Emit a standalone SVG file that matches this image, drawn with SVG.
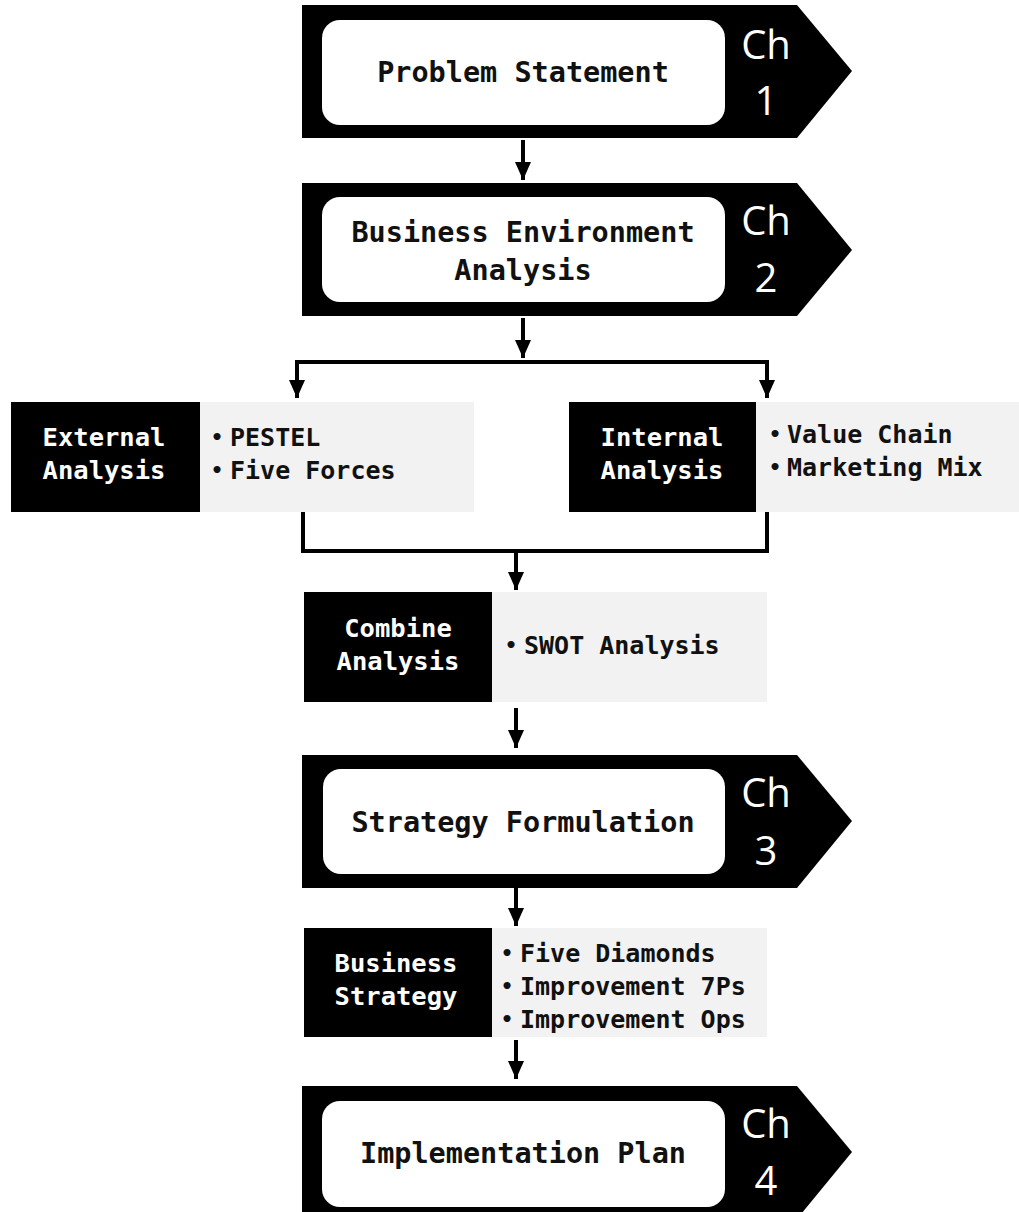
<svg xmlns="http://www.w3.org/2000/svg" width="1019" height="1212" viewBox="0 0 1019 1212">
  <defs>
    <!-- arrowhead drawn along +x so orient="auto" points it along the line -->
    <marker id="arrow" markerUnits="userSpaceOnUse" markerWidth="18" markerHeight="16" refX="18" refY="8" orient="auto" viewBox="0 0 18 16">
      <path d="M0,0 L18,8 L0,16 Z" fill="#000"/>
    </marker>
    <style>
      .chev { fill: #000; }
      .panel { fill: #fff; }
      .title { font-family: "DejaVu Sans Mono", "Liberation Mono", monospace; font-weight: bold; font-size: 28.5px; fill: #111; text-anchor: middle; }
      .ch { font-family: "Open Sans", "Liberation Sans", sans-serif; font-size: 40px; fill: #fff; text-anchor: middle; }
      .tag { fill: #000; }
      .list { fill: #f2f2f2; }
      .tagtxt { font-family: "DejaVu Sans Mono", "Liberation Mono", monospace; font-weight: bold; font-size: 25.5px; fill: #fff; text-anchor: middle; }
      .item { font-family: "DejaVu Sans Mono", "Liberation Mono", monospace; font-weight: bold; font-size: 25px; fill: #111; }
      .dot { font-family: "DejaVu Sans Mono", "Liberation Mono", monospace; font-weight: bold; font-size: 20px; fill: #111; text-anchor: middle; }
      .wire { fill: none; stroke: #000; stroke-width: 4; }
    </style>
  </defs>
  <rect width="1019" height="1212" fill="#fff"/>

  <!-- Chapter 1 -->
  <g id="ch1">
    <path class="chev" d="M302,5 H797 L852,71 L797,138 H302 Z"/>
    <rect class="panel" x="322" y="20" width="403" height="105" rx="18"/>
    <text class="title" x="523" y="82">Problem Statement</text>
    <text class="ch" x="766" y="59">Ch</text>
    <text class="ch" x="766" y="115">1</text>
  </g>

  <!-- Chapter 2 -->
  <g id="ch2">
    <path class="chev" d="M302,183 H797 L852,250 L797,316 H302 Z"/>
    <rect class="panel" x="322" y="197" width="403" height="105" rx="18"/>
    <text class="title" x="523" y="242">Business Environment</text>
    <text class="title" x="523" y="280">Analysis</text>
    <text class="ch" x="766" y="235">Ch</text>
    <text class="ch" x="766" y="292">2</text>
  </g>

  <!-- External analysis -->
  <g id="external">
    <rect class="list" x="200" y="402" width="274" height="110"/>
    <rect class="tag" x="11" y="402" width="189" height="110"/>
    <text class="tagtxt" x="104" y="446">External</text>
    <text class="tagtxt" x="104" y="479">Analysis</text>
    <text class="dot" x="217" y="444">•</text><text class="item" x="230" y="446">PESTEL</text>
    <text class="dot" x="217" y="477">•</text><text class="item" x="230" y="479">Five Forces</text>
  </g>

  <!-- Internal analysis -->
  <g id="internal">
    <rect class="list" x="756" y="402" width="263" height="110"/>
    <rect class="tag" x="569" y="402" width="187" height="110"/>
    <text class="tagtxt" x="662" y="446">Internal</text>
    <text class="tagtxt" x="662" y="479">Analysis</text>
    <text class="dot" x="775" y="441">•</text><text class="item" x="787" y="443">Value Chain</text>
    <text class="dot" x="775" y="474">•</text><text class="item" x="787" y="476">Marketing Mix</text>
  </g>

  <!-- Combine analysis -->
  <g id="combine">
    <rect class="list" x="492" y="592" width="275" height="110"/>
    <rect class="tag" x="304" y="592" width="188" height="110"/>
    <text class="tagtxt" x="398" y="637">Combine</text>
    <text class="tagtxt" x="398" y="670">Analysis</text>
    <text class="dot" x="511" y="652">•</text><text class="item" x="524" y="654">SWOT Analysis</text>
  </g>

  <!-- Chapter 3 -->
  <g id="ch3">
    <path class="chev" d="M302,755 H797 L852,821 L797,888 H302 Z"/>
    <rect class="panel" x="323" y="769" width="402" height="105" rx="18"/>
    <text class="title" x="523" y="832">Strategy Formulation</text>
    <text class="ch" x="766" y="807">Ch</text>
    <text class="ch" x="766" y="865">3</text>
  </g>

  <!-- Business strategy -->
  <g id="bizstrategy">
    <rect class="list" x="492" y="928" width="275" height="109"/>
    <rect class="tag" x="304" y="928" width="188" height="109"/>
    <text class="tagtxt" x="396" y="972">Business</text>
    <text class="tagtxt" x="396" y="1005">Strategy</text>
    <text class="dot" x="507" y="960">•</text><text class="item" x="520" y="962">Five Diamonds</text>
    <text class="dot" x="507" y="993">•</text><text class="item" x="520" y="995">Improvement 7Ps</text>
    <text class="dot" x="507" y="1026">•</text><text class="item" x="520" y="1028">Improvement Ops</text>
  </g>

  <!-- Chapter 4 -->
  <g id="ch4">
    <path class="chev" d="M302,1086 H797 L852,1152 L797,1219 H302 Z"/>
    <rect class="panel" x="322" y="1101" width="403" height="106" rx="18"/>
    <text class="title" x="523" y="1163">Implementation Plan</text>
    <text class="ch" x="766" y="1138">Ch</text>
    <text class="ch" x="766" y="1195">4</text>
  </g>

  <!-- Connectors -->
  <g id="connectors">
    <path class="wire" d="M523,140 V180" marker-end="url(#arrow)"/>
    <path class="wire" d="M523,318 V358" marker-end="url(#arrow)"/>
    <path class="wire" d="M297,362 H767 V398" marker-end="url(#arrow)"/>
    <path class="wire" d="M297,360 V398" marker-end="url(#arrow)"/>
    <path class="wire" d="M303,512 V551 H767 V512"/>
    <path class="wire" d="M516,551 V590" marker-end="url(#arrow)"/>
    <path class="wire" d="M516,708 V748" marker-end="url(#arrow)"/>
    <path class="wire" d="M516,888 V926" marker-end="url(#arrow)"/>
    <path class="wire" d="M516,1040 V1079" marker-end="url(#arrow)"/>
  </g>
</svg>
